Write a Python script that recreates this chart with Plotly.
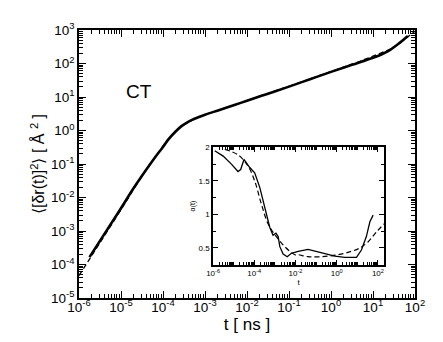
import plotly.graph_objects as go
import numpy as np

# Main MSD curves (log10 t [ns], log10 MSD [A^2])
msd_solid_logt = [-5.75, -5.0, -4.71, -4.5, -4.2, -4.0, -3.88, -3.7, -3.56, -3.4, -3.25, -3.0, -2.69,
                  -2.3, -2.0, -1.5, -1.0, -0.5, 0.0, 0.5, 1.0, 1.2, 1.4, 1.6, 1.83]
msd_solid_logy = [-3.78, -2.32, -1.74, -1.35, -0.82, -0.49, -0.28, -0.03, 0.13, 0.26, 0.35, 0.47, 0.60,
                  0.76, 0.89, 1.10, 1.31, 1.53, 1.75, 1.96, 2.17, 2.27, 2.40, 2.58, 2.82]
msd_dash_logt = [-6.0, -5.5, -5.0, -4.7, -4.4, -4.1, -3.9, -3.7, -3.5, -3.3, -3.0, -2.7, -2.3, -2.0,
                 -1.5, -1.0, -0.5, 0.0, 0.5, 0.8, 1.0, 1.2, 1.4, 1.6, 1.83, 2.02]
msd_dash_logy = [-4.33, -3.35, -2.36, -1.76, -1.17, -0.64, -0.29, -0.03, 0.17, 0.31, 0.47, 0.59, 0.76, 0.89,
                 1.11, 1.32, 1.54, 1.76, 1.98, 2.12, 2.22, 2.32, 2.42, 2.58, 2.80, 2.98]

# Inset alpha(t)
alpha_solid_logt = [-5.92, -5.51, -5.11, -4.79, -4.66, -4.50, -4.22, -3.98, -3.73, -3.49, -3.25, -3.09,
                    -2.95, -2.84, -2.76, -2.60, -2.40, -2.20, -1.96, -1.87, -1.39, -0.74, -0.09, 0.39,
                    0.96, 1.20, 1.44, 1.61, 1.77]
alpha_solid = [1.95, 1.87, 1.75, 1.64, 1.67, 1.82, 1.70, 1.62, 1.40, 1.11, 0.81, 0.69,
               0.72, 0.67, 0.52, 0.41, 0.37, 0.42, 0.45, 0.45, 0.48, 0.43, 0.38, 0.36,
               0.36, 0.47, 0.67, 0.89, 0.99]
alpha_dash_logt = [-5.43, -4.79, -4.30, -3.98, -3.66, -3.33, -2.93, -2.52, -2.03, -1.87, -1.39, -0.74,
                   0.07, 0.71, 1.12, 1.52, 1.93, 2.30]
alpha_dash = [1.97, 1.89, 1.72, 1.50, 1.16, 0.86, 0.67, 0.52, 0.40, 0.40, 0.37, 0.37,
              0.40, 0.45, 0.50, 0.59, 0.74, 0.86]

main_tick_exp = [-6, -5, -4, -3, -2, -1, 0, 1, 2]
main_ytick_exp = [-5, -4, -3, -2, -1, 0, 1, 2, 3]
inset_tick_exp = [-6, -4, -2, 0, 2]
inset_yticks = [0.5, 1, 1.5, 2]
inset_yticklabels = ["0.5", "1", "1.5", "2"]


def lab(e):
    return "10<sup>%d</sup>" % e


fig = go.Figure()
fig.add_trace(go.Scatter(x=[10 ** v for v in msd_dash_logt], y=[10 ** v for v in msd_dash_logy],
                         mode="lines", line=dict(color="black", width=1.3, dash="5px,3px", shape="spline"),
                         xaxis="x", yaxis="y", showlegend=False))
fig.add_trace(go.Scatter(x=[10 ** v for v in msd_solid_logt], y=[10 ** v for v in msd_solid_logy],
                         mode="lines", line=dict(color="black", width=2.6, shape="spline"),
                         xaxis="x", yaxis="y", showlegend=False))
fig.add_trace(go.Scatter(x=[10 ** v for v in alpha_dash_logt], y=alpha_dash,
                         mode="lines", line=dict(color="black", width=1.2, dash="5px,3px", shape="spline"),
                         xaxis="x2", yaxis="y2", showlegend=False))
fig.add_trace(go.Scatter(x=[10 ** v for v in alpha_solid_logt], y=alpha_solid,
                         mode="lines", line=dict(color="black", width=1.3),
                         xaxis="x2", yaxis="y2", showlegend=False))

font = "Liberation Sans, Arial, sans-serif"
axcommon = dict(showline=True, linecolor="black", linewidth=1.6, mirror="allticks", ticks="inside",
                showgrid=False, zeroline=False, tickcolor="black")

fig.update_layout(
    width=443, height=342,
    margin=dict(l=71, r=36, t=16, b=52),
    paper_bgcolor="white", plot_bgcolor="white",
    font=dict(family=font, color="black"),
    xaxis=dict(type="log", range=[-6, 2], domain=[0, 1], tickvals=[10 ** e for e in main_tick_exp],
               ticktext=[lab(e) for e in main_tick_exp], ticklen=7, tickwidth=1.2,
               tickfont=dict(size=13.5, family=font), ticklabelstandoff=-4,
               minor=dict(ticks="inside", ticklen=4, dtick="D1", tickcolor="black", tickwidth=1),
               title=dict(text="t [ ns ]", font=dict(size=17, family=font), standoff=1),
               **axcommon),
    yaxis=dict(type="log", range=[-5, 3], domain=[0, 1], tickvals=[10 ** e for e in main_ytick_exp],
               ticktext=[lab(e) for e in main_ytick_exp], ticklen=7, tickwidth=1.2,
               tickfont=dict(size=13.5, family=font),
               minor=dict(ticks="inside", ticklen=4, dtick="D1", tickcolor="black", tickwidth=1),
               title=dict(text="⟨[δr(t)]<sup>2</sup>⟩ [ Å <sup>2</sup> ]", font=dict(size=16, family=font), standoff=2),
               **axcommon),
    xaxis2=dict(type="log", range=[-6, 2.3], domain=[0.399, 0.908], anchor="y2",
                tickvals=[10 ** e for e in inset_tick_exp], ticktext=[lab(e) for e in inset_tick_exp],
                ticklen=5, tickwidth=1, tickfont=dict(size=8, family=font),
                minor=dict(ticks="inside", ticklen=3, dtick="D1", tickcolor="black", tickwidth=0.8),
                title=dict(text="t", font=dict(size=8, family=font), standoff=0),
                **axcommon),
    yaxis2=dict(range=[0.25, 2], domain=[0.124, 0.562], anchor="x2",
                tickvals=inset_yticks, ticktext=inset_yticklabels,
                ticklen=5, tickwidth=1, tickfont=dict(size=8, family=font),
                minor=dict(ticks="inside", ticklen=3, dtick=0.25, tickcolor="black", tickwidth=0.8),
                title=dict(text="α(t)", font=dict(size=7, family=font), standoff=2),
                **axcommon),
    annotations=[dict(text="CT", x=-4.57, y=1.16, xref="x", yref="y", showarrow=False,
                      font=dict(size=19, family=font))],
)
fig.add_shape(type="rect", xref="x2 domain", yref="y2 domain", x0=0, x1=1, y0=0, y1=1,
              fillcolor="white", line=dict(width=0), layer="below")

fig.write_html("out.html")
